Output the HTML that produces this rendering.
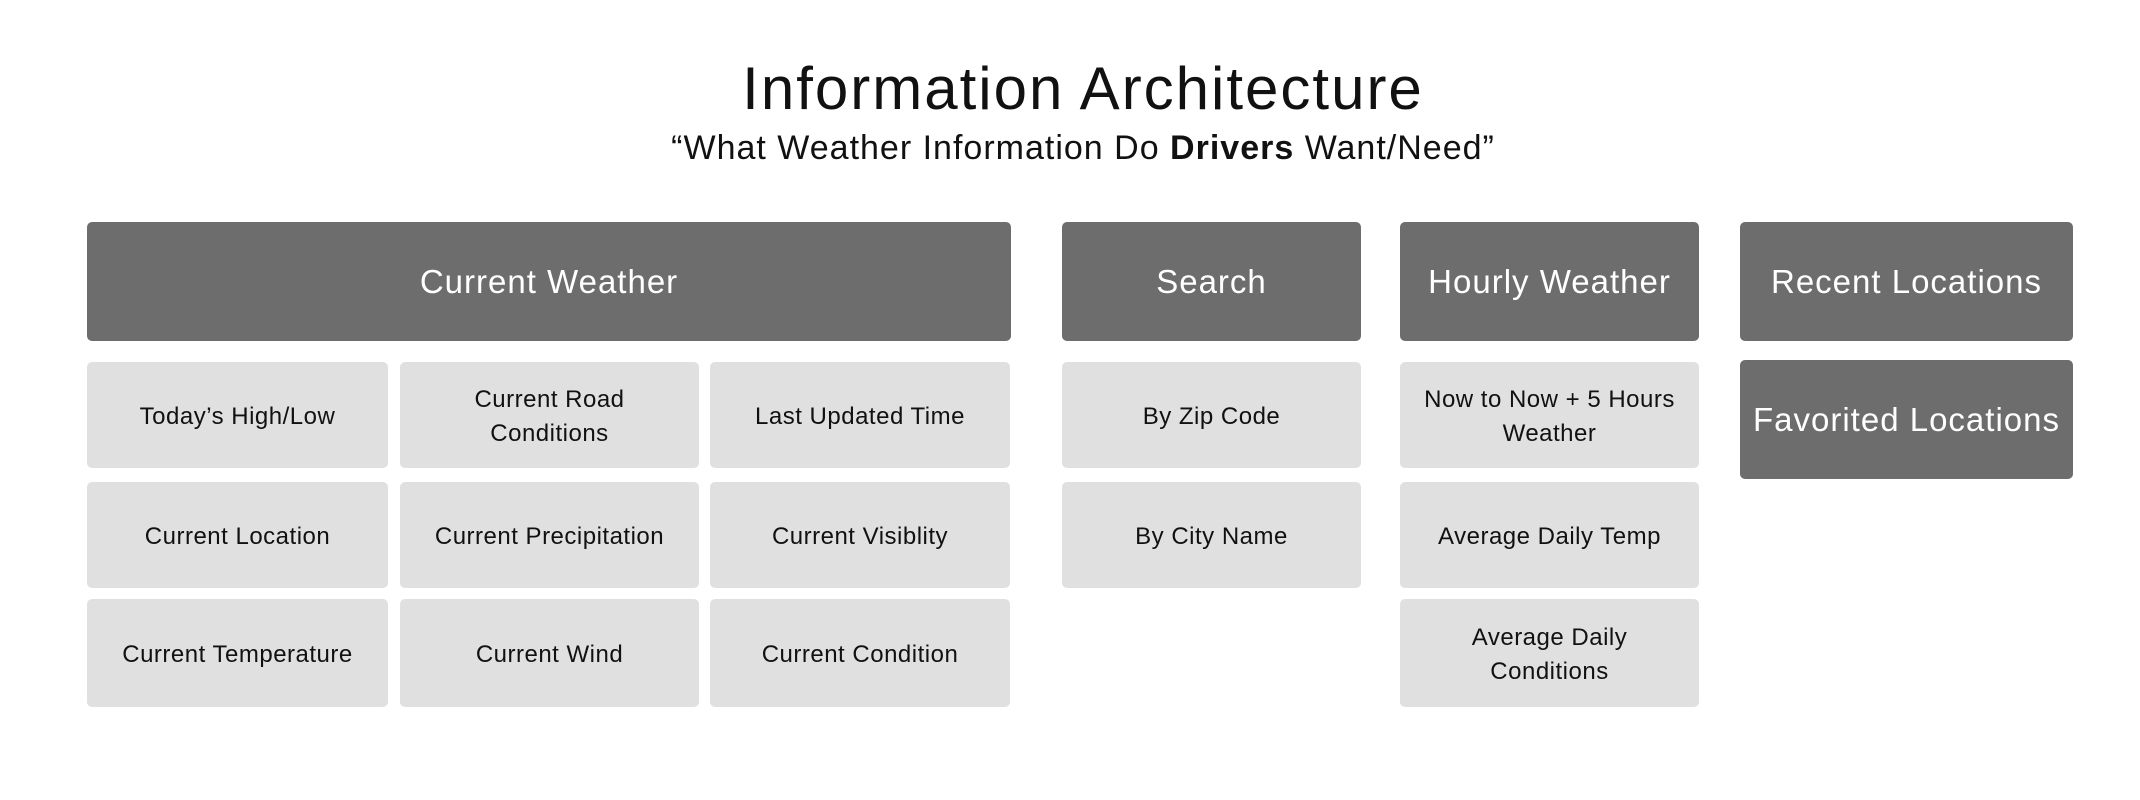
<!DOCTYPE html>
<html><head><style>
body{margin:0;width:2140px;height:800px;background:#fff;position:relative;font-family:"Liberation Sans",sans-serif;overflow:hidden}
.t{position:absolute;left:0;width:2140px;text-align:center;color:#111}
.b{position:absolute;display:flex;align-items:center;justify-content:center;text-align:center;border-radius:5px;box-sizing:border-box}
.d{background:#6d6d6d;color:#fff;font-size:33px;letter-spacing:1px}
.l{background:#e0e0e0;color:#111;font-size:24px;line-height:34px;letter-spacing:0.5px;padding:4px 10px 0}
</style></head><body>
<div class="t" style="top:54px;font-size:60px;letter-spacing:2px;left:13px">Information Architecture</div>
<div class="t" style="top:129px;font-size:34px;letter-spacing:1px;left:13px">“What Weather Information Do <b>Drivers</b> Want/Need”</div>

<div class="b d" style="left:87px;top:222px;width:924px;height:119px">Current Weather</div>
<div class="b d" style="left:1062px;top:222px;width:299px;height:119px">Search</div>
<div class="b d" style="left:1400px;top:222px;width:299px;height:119px">Hourly Weather</div>
<div class="b d" style="left:1740px;top:222px;width:333px;height:119px">Recent Locations</div>
<div class="b d" style="left:1740px;top:360px;width:333px;height:119px">Favorited Locations</div>

<div class="b l" style="left:87px;top:362px;width:301px;height:106px">Today’s High/Low</div>
<div class="b l" style="left:400px;top:362px;width:299px;height:106px">Current Road<br>Conditions</div>
<div class="b l" style="left:710px;top:362px;width:300px;height:106px">Last Updated Time</div>
<div class="b l" style="left:87px;top:482px;width:301px;height:106px">Current Location</div>
<div class="b l" style="left:400px;top:482px;width:299px;height:106px">Current Precipitation</div>
<div class="b l" style="left:710px;top:482px;width:300px;height:106px">Current Visiblity</div>
<div class="b l" style="left:87px;top:599px;width:301px;height:108px">Current Temperature</div>
<div class="b l" style="left:400px;top:599px;width:299px;height:108px">Current Wind</div>
<div class="b l" style="left:710px;top:599px;width:300px;height:108px">Current Condition</div>

<div class="b l" style="left:1062px;top:362px;width:299px;height:106px">By Zip Code</div>
<div class="b l" style="left:1062px;top:482px;width:299px;height:106px">By City Name</div>

<div class="b l" style="left:1400px;top:362px;width:299px;height:106px">Now to Now + 5 Hours<br>Weather</div>
<div class="b l" style="left:1400px;top:482px;width:299px;height:106px">Average Daily Temp</div>
<div class="b l" style="left:1400px;top:599px;width:299px;height:108px">Average Daily<br>Conditions</div>
</body></html>
